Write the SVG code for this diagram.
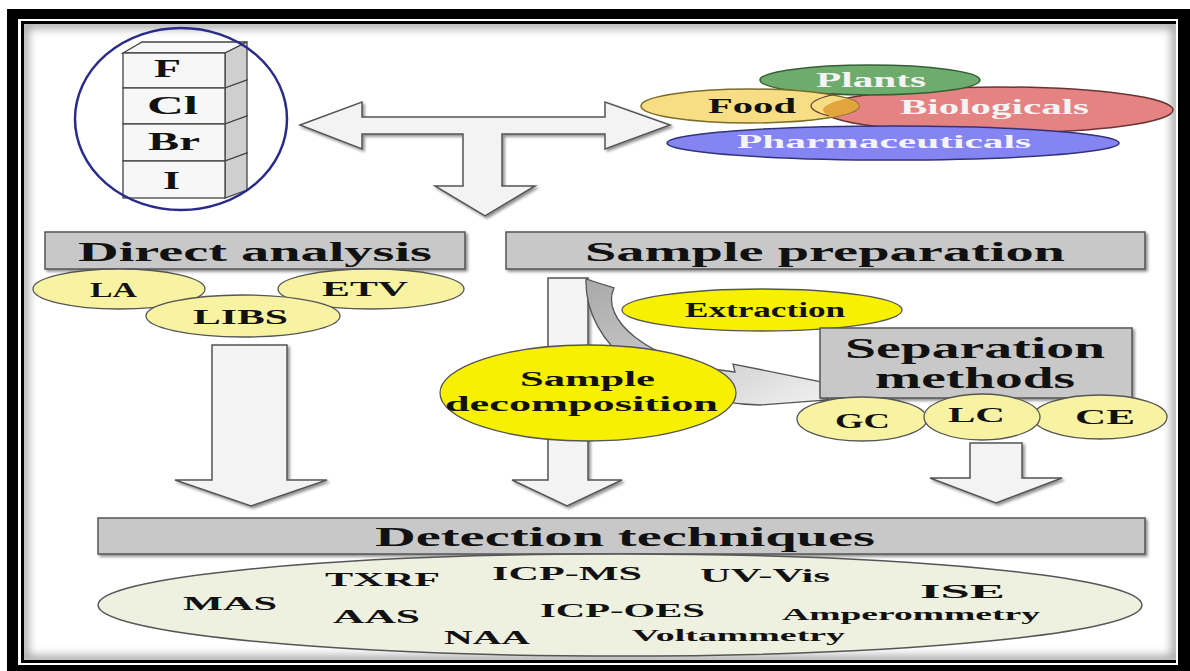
<svg xmlns="http://www.w3.org/2000/svg" width="1190" height="671" viewBox="0 0 1190 671">
<defs>
<style>
.t{font-family:"Liberation Serif","Times New Roman",serif;font-weight:bold;fill:#111}
.w{fill:#f4f4f4}
.box{fill:#c8c8c8;stroke:#555;stroke-width:1.5}
.arr{fill:#f3f3f3;stroke:#555;stroke-width:1.5}
.ly{fill:#f8f3a2;stroke:#555;stroke-width:1.3}
.by{fill:#f7f000;stroke:#555;stroke-width:1.3}
.cube{fill:#f7f7f7;stroke:#444;stroke-width:1.3}
.side{fill:#cfcfcf;stroke:#444;stroke-width:1.3}
</style>
<filter id="sh" x="-10%" y="-10%" width="130%" height="140%">
<feGaussianBlur in="SourceAlpha" stdDeviation="1.5"/>
<feOffset dx="2" dy="2" result="o"/>
<feComponentTransfer><feFuncA type="linear" slope="0.45"/></feComponentTransfer>
<feMerge><feMergeNode/><feMergeNode in="SourceGraphic"/></feMerge>
</filter>
<filter id="blur"><feGaussianBlur stdDeviation="5"/></filter>
<clipPath id="inner"><rect x="24" y="24" width="1152" height="636"/></clipPath>
<clipPath id="foodclip"><ellipse cx="750" cy="106" rx="109" ry="17"/></clipPath>
<linearGradient id="curv" x1="0" y1="0" x2="1" y2="1">
<stop offset="0" stop-color="#a9a9a9"/><stop offset="0.5" stop-color="#c9c9c9"/><stop offset="1" stop-color="#f2f2f2"/>
</linearGradient>
</defs>

<!-- frame -->
<rect x="0" y="0" width="1190" height="671" fill="#fff"/>
<rect x="7" y="9" width="1183" height="662" fill="#000"/>
<rect x="18" y="19" width="1160" height="646" fill="#fff"/>
<rect x="21" y="21" width="1155" height="642" fill="#000"/>
<rect x="24" y="24" width="1152" height="636" fill="#fff"/>
<g clip-path="url(#inner)">
<rect x="24" y="24" width="1152" height="636" fill="none" stroke="#9a9a9a" stroke-width="8" filter="url(#blur)"/>
</g>

<!-- connectors -->
<g id="connectors">
<path class="arr" filter="url(#sh)" d="M300,125 L362,102 L362,117 L605,117 L605,102 L670,125 L605,149 L605,134 L502,134 L502,186 L535,186 L485,216 L435,186 L463,186 L463,134 L362,134 L362,149 Z"/>
<path class="arr" filter="url(#sh)" d="M212,345 L287,345 L287,480 L327,480 L251,506 L175,480 L212,480 Z"/>
<path class="arr" filter="url(#sh)" d="M548,278 L588,278 L588,480 L622,480 L567,506 L512,480 L548,480 Z"/>
<path class="arr" filter="url(#sh)" d="M970,443 L1022,443 L1022,478 L1062,478 L996,503 L930,478 L970,478 Z"/>
<path fill="url(#curv)" stroke="#555" stroke-width="1.3" d="M586,279 L614,288 C600,318 645,362 735,372 L733,364 L822,382 L828,400 L760,405 C655,402 584,345 586,279 Z"/>
</g>

<!-- halogens -->
<g id="halogens">
<polygon class="cube" points="123,53 225,53 247,42 142,42"/>
<polygon class="side" points="225,53 247,42 247,80 225,88"/>
<rect class="cube" x="123" y="53" width="102" height="35"/>
<polygon class="side" points="225,88 247,80 247,116 225,124"/>
<rect class="cube" x="123" y="88" width="102" height="36"/>
<polygon class="side" points="225,124 247,116 247,153 225,161"/>
<rect class="cube" x="123" y="124" width="102" height="37"/>
<polygon class="side" points="225,161 247,153 247,190 225,198"/>
<rect class="cube" x="123" y="161" width="102" height="37"/>
<text class="t" x="154" y="77" font-size="25" textLength="27" lengthAdjust="spacingAndGlyphs">F</text>
<text class="t" x="147" y="114" font-size="25" textLength="51" lengthAdjust="spacingAndGlyphs">Cl</text>
<text class="t" x="148" y="150" font-size="25" textLength="52" lengthAdjust="spacingAndGlyphs">Br</text>
<text class="t" x="163" y="189" font-size="25" textLength="17" lengthAdjust="spacingAndGlyphs">I</text>
<ellipse cx="181" cy="119" rx="106" ry="91" fill="none" stroke="#2a2a8a" stroke-width="2.5"/>
</g>

<!-- samples -->
<g id="samples">
<ellipse cx="998" cy="110" rx="175" ry="23" fill="#e58282" stroke="#6a3434" stroke-width="1.5"/>
<ellipse cx="870" cy="80" rx="110" ry="15" fill="#6eac6e" stroke="#355f35" stroke-width="1.5"/>
<ellipse cx="750" cy="106" rx="109" ry="17" fill="#f7de84" stroke="#7c6c2a" stroke-width="1.5"/>
<ellipse cx="998" cy="110" rx="175" ry="23" fill="#e2a43c" clip-path="url(#foodclip)"/>
<path d="M836,94 A175,23 0 0 0 829,116" fill="none" stroke="#6a3434" stroke-width="1.2"/>
<ellipse cx="893" cy="143" rx="226" ry="17" fill="#8484f2" stroke="#33337a" stroke-width="1.5"/>
<text class="t w" x="816" y="87" font-size="20" textLength="110" lengthAdjust="spacingAndGlyphs">Plants</text>
<text class="t" x="708" y="113" font-size="20" textLength="88" lengthAdjust="spacingAndGlyphs">Food</text>
<text class="t w" x="900" y="114" font-size="20" textLength="189" lengthAdjust="spacingAndGlyphs">Biologicals</text>
<text class="t w" x="737" y="148" font-size="19" textLength="294" lengthAdjust="spacingAndGlyphs">Pharmaceuticals</text>
</g>

<!-- direct analysis -->
<g id="direct">
<rect class="box" x="45" y="232" width="420" height="37" filter="url(#sh)"/>
<text class="t" x="78" y="261" font-size="28" textLength="354" lengthAdjust="spacingAndGlyphs">Direct analysis</text>
</g>
<g id="la"><ellipse class="ly" cx="119" cy="289" rx="86" ry="20"/><text class="t" x="90" y="297" font-size="20" textLength="47" lengthAdjust="spacingAndGlyphs">LA</text></g>
<g id="etv"><ellipse class="ly" cx="371" cy="289" rx="93" ry="20"/><text class="t" x="322" y="296" font-size="20" textLength="86" lengthAdjust="spacingAndGlyphs">ETV</text></g>
<g id="libs"><ellipse class="ly" cx="243" cy="316" rx="97" ry="21"/><text class="t" x="193" y="324" font-size="20" textLength="95" lengthAdjust="spacingAndGlyphs">LIBS</text></g>

<!-- sample preparation -->
<g id="prep">
<rect class="box" x="506" y="232" width="639" height="37" filter="url(#sh)"/>
<text class="t" x="585" y="261" font-size="28" textLength="480" lengthAdjust="spacingAndGlyphs">Sample preparation</text>
</g>
<g id="extraction"><ellipse class="by" cx="762" cy="310" rx="140" ry="21"/><text class="t" x="685" y="317" font-size="20" textLength="160" lengthAdjust="spacingAndGlyphs">Extraction</text></g>
<g id="separation">
<rect class="box" x="820" y="328" width="312" height="70" filter="url(#sh)"/>
<text class="t" x="845" y="358" font-size="29" textLength="260" lengthAdjust="spacingAndGlyphs">Separation</text>
<text class="t" x="875" y="388" font-size="29" textLength="200" lengthAdjust="spacingAndGlyphs">methods</text>
</g>
<g id="decomp"><ellipse class="by" cx="588" cy="393" rx="148" ry="48"/>
<text class="t" x="520" y="386" font-size="20" textLength="135" lengthAdjust="spacingAndGlyphs">Sample</text>
<text class="t" x="445" y="411" font-size="20" textLength="273" lengthAdjust="spacingAndGlyphs">decomposition</text></g>
<g id="gc"><ellipse class="ly" cx="862" cy="419" rx="65" ry="22"/><text class="t" x="835" y="428" font-size="20" textLength="55" lengthAdjust="spacingAndGlyphs">GC</text></g>
<g id="ce"><ellipse class="ly" cx="1100" cy="417" rx="67" ry="22"/><text class="t" x="1075" y="424" font-size="20" textLength="60" lengthAdjust="spacingAndGlyphs">CE</text></g>
<g id="lc"><ellipse class="ly" cx="982" cy="417" rx="58" ry="23"/><text class="t" x="948" y="422" font-size="20" textLength="57" lengthAdjust="spacingAndGlyphs">LC</text></g>

<!-- detection -->
<g id="detection">
<rect class="box" x="98" y="518" width="1047" height="36" filter="url(#sh)"/>
<text class="t" x="375" y="546" font-size="28" textLength="500" lengthAdjust="spacingAndGlyphs">Detection techniques</text>
</g>
<g id="techniques">
<ellipse cx="620" cy="605" rx="522" ry="51" fill="#eef0e0" stroke="#555" stroke-width="1.5"/>
<text class="t" x="183" y="610" font-size="19" textLength="94" lengthAdjust="spacingAndGlyphs">MAS</text>
<text class="t" x="325" y="586" font-size="19" textLength="115" lengthAdjust="spacingAndGlyphs">TXRF</text>
<text class="t" x="492" y="580" font-size="19" textLength="150" lengthAdjust="spacingAndGlyphs">ICP-MS</text>
<text class="t" x="700" y="582" font-size="19" textLength="130" lengthAdjust="spacingAndGlyphs">UV-Vis</text>
<text class="t" x="920" y="598" font-size="19" textLength="85" lengthAdjust="spacingAndGlyphs">ISE</text>
<text class="t" x="333" y="623" font-size="19" textLength="87" lengthAdjust="spacingAndGlyphs">AAS</text>
<text class="t" x="540" y="617" font-size="19" textLength="165" lengthAdjust="spacingAndGlyphs">ICP-OES</text>
<text class="t" x="782" y="620" font-size="17" textLength="258" lengthAdjust="spacingAndGlyphs">Amperommetry</text>
<text class="t" x="444" y="644" font-size="19" textLength="86" lengthAdjust="spacingAndGlyphs">NAA</text>
<text class="t" x="632" y="641" font-size="17" textLength="213" lengthAdjust="spacingAndGlyphs">Voltammetry</text>
</g>
</svg>
